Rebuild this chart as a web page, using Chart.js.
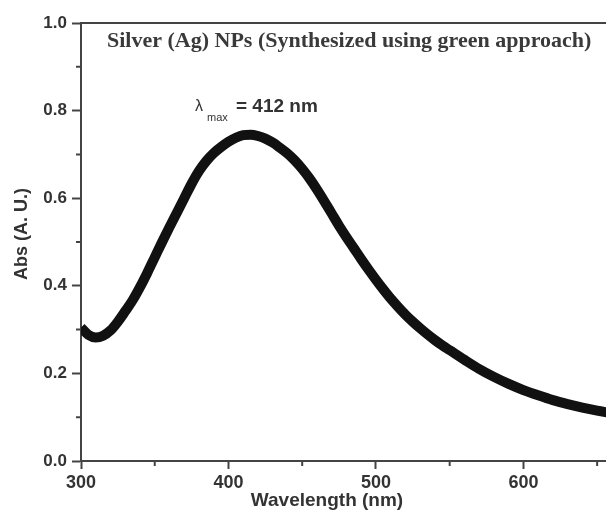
<!DOCTYPE html>
<html>
<head>
<meta charset="utf-8">
<script src="https://cdn.jsdelivr.net/npm/chart.js@4"></script>
<style>
  body { margin: 0; background: #fff; }
</style>
</head>
<body>
<canvas id="uvChart" width="606" height="513"></canvas>
<script>
const wavelengths = [300, 305, 310, 315, 320, 325, 330, 335, 340, 345, 350, 355, 360, 365, 370, 375, 380, 385, 390, 395,
  400, 405, 410, 415, 420, 425, 430, 435, 440, 445, 450, 455, 460, 465, 470, 475, 480, 485, 490, 495,
  500, 505, 510, 515, 520, 525, 530, 535, 540, 545, 550, 560, 570, 580, 590, 600, 610, 620, 630, 640, 650, 660];
const absorbance = [0.305, 0.288, 0.282, 0.286, 0.298, 0.318, 0.342, 0.367, 0.397, 0.430, 0.465, 0.500, 0.534, 0.567, 0.600, 0.633, 0.662, 0.685, 0.703, 0.717,
  0.729, 0.738, 0.744, 0.745, 0.742, 0.736, 0.727, 0.715, 0.702, 0.686, 0.667, 0.645, 0.620, 0.593, 0.565, 0.537, 0.511, 0.486, 0.461, 0.437,
  0.414, 0.392, 0.371, 0.352, 0.334, 0.318, 0.303, 0.289, 0.276, 0.264, 0.253, 0.231, 0.210, 0.192, 0.176, 0.162, 0.150, 0.139, 0.130, 0.122, 0.115, 0.109];

const xTicks = [300, 400, 500, 600];
const xMinorTicks = [350, 450, 550, 650];
const yTicks = [0.0, 0.2, 0.4, 0.6, 0.8, 1.0];
const yMinorTicks = [0.1, 0.3, 0.5, 0.7, 0.9];

const axisColor = "#444";
const textColor = "#333";

// minor ticks, top frame line and the texts
const extras = {
  id: "extras",
  afterDraw: (chart) => {
    const { ctx, chartArea, scales } = chart;
    ctx.save();
    ctx.strokeStyle = axisColor;
    ctx.lineWidth = 2;
    ctx.beginPath();
    ctx.moveTo(chartArea.left - 1, chartArea.top);
    ctx.lineTo(chartArea.right, chartArea.top);
    xMinorTicks.forEach((v) => {
      const px = scales.x.getPixelForValue(v);
      ctx.moveTo(px, chartArea.bottom);
      ctx.lineTo(px, chartArea.bottom + 5);
    });
    yMinorTicks.forEach((v) => {
      const py = scales.y.getPixelForValue(v);
      ctx.moveTo(chartArea.left, py);
      ctx.lineTo(chartArea.left - 5, py);
    });
    ctx.stroke();

    ctx.fillStyle = "#3a3a3a";
    ctx.textBaseline = "alphabetic";
    ctx.textAlign = "left";
    ctx.font = "bold 22px 'Liberation Serif', 'Times New Roman', serif";
    ctx.fillText("Silver (Ag) NPs (Synthesized using green approach)", 107, 47);

    ctx.fillStyle = textColor;
    ctx.font = "16px 'Liberation Sans', Arial, sans-serif";
    ctx.fillText("λ", 195, 111);
    ctx.font = "11px 'Liberation Sans', Arial, sans-serif";
    ctx.fillText("max", 207, 121);
    ctx.font = "bold 19px 'Liberation Sans', Arial, sans-serif";
    ctx.fillText("= 412 nm", 236, 112);

    ctx.textAlign = "center";
    ctx.fillText("Wavelength (nm)", 327, 506);
    ctx.font = "bold 18px 'Liberation Sans', Arial, sans-serif";
    ctx.translate(27, 234);
    ctx.rotate(-Math.PI / 2);
    ctx.fillText("Abs (A. U.)", 0, 0);
    ctx.restore();
  },
};

new Chart(document.getElementById("uvChart"), {
  type: "line",
  data: {
    datasets: [
      {
        data: wavelengths.map((w, i) => ({ x: w, y: absorbance[i] })),
        borderColor: "#111",
        borderWidth: 10,
        pointRadius: 0,
        cubicInterpolationMode: "monotone",
        fill: false,
        clip: 0,
      },
    ],
  },
  options: {
    responsive: false,
    animation: false,
    devicePixelRatio: 1,
    layout: { padding: { top: 23, right: 0, left: 0, bottom: 0 } },
    plugins: {
      legend: { display: false },
      tooltip: { enabled: false },
    },
    scales: {
      x: {
        type: "linear",
        min: 300,
        max: 656,
        afterFit: (scale) => { scale.height = 52; },
        afterBuildTicks: (scale) => { scale.ticks = xTicks.map((v) => ({ value: v })); },
        border: { display: true, color: axisColor, width: 2 },
        grid: { drawOnChartArea: false, tickLength: 8, tickColor: axisColor, tickWidth: 2 },
        ticks: {
          color: textColor,
          padding: 3,
          maxRotation: 0,
          font: { family: "'Liberation Sans', Arial, sans-serif", size: 18, weight: "bold" },
        },
      },
      y: {
        min: 0,
        max: 1,
        afterFit: (scale) => { scale.width = 81; },
        afterBuildTicks: (scale) => { scale.ticks = yTicks.map((v) => ({ value: v })); },
        border: { display: true, color: axisColor, width: 2 },
        grid: { drawOnChartArea: false, tickLength: 9, tickColor: axisColor, tickWidth: 2 },
        ticks: {
          color: textColor,
          padding: 5,
          callback: (v) => v.toFixed(1),
          font: { family: "'Liberation Sans', Arial, sans-serif", size: 17, weight: "bold" },
        },
      },
    },
  },
  plugins: [extras],
});
</script>
</body>
</html>
